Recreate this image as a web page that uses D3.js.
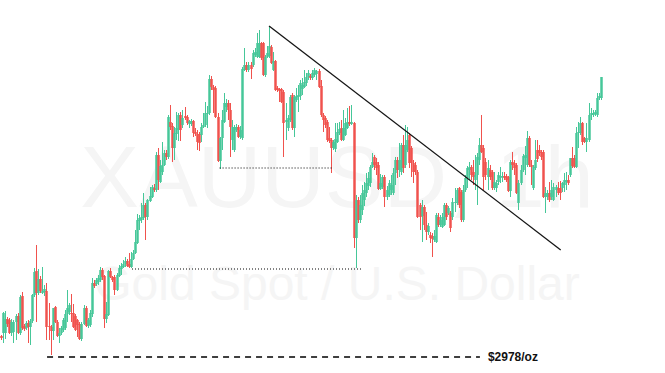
<!DOCTYPE html>
<html>
<head>
<meta charset="utf-8">
<script src="https://cdn.jsdelivr.net/npm/d3@7"></script>
<style>
  body { margin: 0; background: #fff; }
  svg { display: block; }
</style>
</head>
<body>
<svg id="chart"></svg>
<script>
// XAUUSD 1h candles, prices
const opens = [
  2999,3002,3002,3016,3015,3002,3003,3013,3019,3002, 3039,3009,3007,3012,3008,3014,3040,3064,3042,3056,
  3042,3043,3044,3009,3008,3004,3028,3013,2999,3002, 3005,3007,3021,3023,3022,3022,3019,3015,3011,2996,
  3011,3027,3009,3010,3021,3052,3051,3053,
  3055,3065,3059,3016,3020,3064,3058,3058,3045,3059, 3066,3068,3071,3074,3071,3068,3076,3082,3092,3114,
  3115,3117,3130,3118,3134,3138,3147,3145,3180,3153, 3163,3170,3182,3178,3213,3209,3187,3201,3205,3220,
  3210,3219,3218,3211,3211,3214,3203,3201,
  3201,3200,3208,3210,3221,3222,3256,3248,3247,3218, 3174,3197,3213,3228,3232,3225,3195,3185,3205,3208,
  3198,3197,3265,3270,3265,3270,3270,3280,3278,3278, 3292,3292,3260,3278,3279,3288,3265,3274,3247,3246,
  3246,3243,3213,3207,3215,3240,3207,3235,
  3238,3239,3246,3248,3252,3258,3259,3257,3260,3261, 3264,3249,3220,3217,3213,3197,3195,3187,3186,3193,
  3202,3207,3195,3200,3207,3213,3211,3212,3097,3135, 3115,3125,3135,3142,3149,3152,3168,3178,3173,3170,
  3146,3148,3158,3138,3140,3145,3142,3162,
  3175,3165,3163,3190,3170,3185,3200,3187,3172,3170, 3163,3130,3119,3128,3110,3103,3100,3099,3095,3093,
  3118,3110,3108,3110,3130,3122,3122,3118,3132,3132, 3147,3143,3115,3145,3157,3165,3168,3163,3155,3160,
  3175,3190,3187,3173,3158,3165,3163,3147,3147,3153,
  3157,3158,3159,3159,3158,3144,3173,3172,3170,3132, 3152,3165,3177,3170,3197,3170,3147,3167,3185,3185,
  3183,3183,3138,3138,3142,3138,3135,3145,3147,3147, 3147,3150,3153,3155,3160,3177,3177,3168,3202,3202,
  3212,3197,3193,3195,3220,3220,3221,3220,3237,3237
]
const highs = [
  3000,3023,3024,3018,3017,3016,3015,3021,3022,3040, 3043,3011,3014,3015,3016,3041,3067,3090,3066,3059,
  3068,3050,3052,3032,3010,3027,3029,3015,3007,3009, 3017,3025,3045,3032,3041,3031,3021,3016,3013,3013,
  3030,3029,3017,3025,3057,3055,3057,3060,
  3068,3067,3060,3033,3065,3067,3059,3060,3062,3070, 3072,3075,3078,3076,3082,3083,3085,3105,3121,3120,
  3132,3142,3132,3136,3148,3150,3151,3183,3187,3175, 3193,3185,3185,3220,3230,3212,3208,3223,3222,3223,
  3225,3228,3220,3215,3216,3215,3207,3205,
  3203,3212,3222,3233,3229,3260,3259,3250,3249,3222, 3198,3225,3242,3236,3235,3232,3215,3210,3211,3210,
  3209,3268,3287,3273,3273,3273,3285,3287,3302,3305, 3293,3293,3280,3289,3309,3290,3283,3275,3249,3247,
  3247,3245,3232,3220,3240,3242,3240,3247,
  3250,3255,3257,3265,3262,3265,3261,3265,3267,3265, 3266,3255,3222,3219,3215,3208,3197,3195,3212,3212,
  3213,3215,3225,3217,3227,3229,3230,3213,3140,3138, 3140,3150,3153,3162,3163,3170,3182,3180,3177,3173,
  3161,3160,3160,3149,3155,3160,3167,3178,
  3178,3192,3192,3200,3210,3208,3202,3189,3175,3173, 3165,3132,3135,3130,3123,3112,3103,3102,3105,3122,
  3122,3120,3122,3132,3132,3129,3124,3137,3147,3147, 3148,3145,3150,3160,3169,3173,3170,3175,3180,3182,
  3197,3220,3190,3177,3175,3170,3165,3163,3155,3163,
  3168,3163,3163,3161,3159,3175,3183,3175,3172,3155, 3170,3181,3189,3204,3199,3175,3170,3195,3195,3190,
  3185,3185,3148,3145,3153,3155,3152,3150,3153,3154, 3153,3162,3163,3160,3177,3188,3180,3208,3213,3218,
  3213,3198,3212,3232,3227,3225,3225,3242,3242,3258
]
const lows = [
  2995,2992,2996,3008,3001,2999,2992,2995,3001,3000, 3005,3004,3005,2992,2990,3012,3038,3013,3040,3042,
  3041,3039,2995,2995,2980,2995,3012,2998,2992,3000, 3003,3005,3013,3020,3013,3007,3004,2998,2995,2994,
  3010,3008,3007,3008,3018,3047,3049,3050,
  3053,3055,3007,3012,3019,3057,3053,3040,3044,3058, 3060,3067,3068,3068,3067,3067,3075,3081,3091,3105,
  3112,3115,3095,3115,3133,3137,3143,3143,3145,3152, 3160,3169,3175,3176,3205,3173,3175,3195,3194,3194,
  3207,3215,3210,3207,3209,3198,3199,3185,
  3184,3193,3207,3208,3207,3220,3245,3222,3217,3173, 3166,3185,3212,3223,3215,3178,3185,3183,3203,3197,
  3196,3195,3264,3263,3263,3256,3268,3278,3277,3277, 3275,3259,3258,3277,3277,3271,3264,3244,3243,3233,
  3232,3178,3195,3204,3213,3205,3198,3233,
  3223,3235,3240,3247,3249,3255,3255,3255,3258,3255, 3247,3218,3203,3207,3193,3192,3162,3185,3183,3192,
  3200,3194,3194,3199,3206,3209,3210,3087,3067,3112, 3112,3120,3129,3138,3145,3148,3167,3165,3160,3145,
  3145,3146,3128,3135,3138,3140,3140,3150,
  3157,3158,3160,3162,3167,3183,3167,3158,3152,3160, 3117,3105,3093,3105,3095,3100,3092,3078,3093,3092,
  3108,3108,3107,3109,3115,3120,3103,3115,3123,3130, 3127,3113,3113,3143,3147,3155,3155,3150,3145,3130,
  3170,3182,3145,3155,3145,3155,3145,3145,3143,3150,
  3152,3153,3155,3153,3143,3138,3165,3160,3141,3125, 3150,3163,3160,3168,3168,3150,3145,3165,3173,3179,
  3175,3137,3122,3135,3133,3135,3134,3138,3140,3135, 3143,3143,3145,3150,3158,3167,3167,3167,3187,3200,
  3190,3192,3183,3193,3215,3218,3219,3218,3235,3235
]
const closes = [
  2997,3022,3016,3011,3002,3013,3013,3019,3002,3038, 3007,3006,3012,3008,3014,3040,3063,3042,3056,3044,
  3044,3046,3008,3008,3004,3027,3013,2999,3002,3007, 3015,3021,3027,3030,3021,3008,3005,3010,2996,3011,
  3027,3009,3015,3022,3052,3049,3055,3057,
  3065,3058,3016,3021,3064,3058,3055,3045,3060,3067, 3069,3071,3074,3069,3068,3076,3082,3093,3115,3117,
  3118,3130,3118,3135,3139,3148,3145,3180,3155,3169, 3170,3182,3178,3218,3208,3187,3202,3207,3220,3205,
  3217,3217,3212,3214,3214,3202,3201,3193,
  3192,3208,3210,3222,3222,3256,3248,3245,3218,3174, 3197,3215,3232,3232,3225,3208,3208,3208,3208,3198,
  3205,3266,3270,3265,3270,3266,3282,3283,3292,3292, 3277,3260,3278,3282,3289,3272,3274,3245,3245,3244,
  3233,3212,3215,3217,3238,3207,3238,3239,
  3240,3252,3250,3253,3258,3262,3257,3262,3265,3264, 3248,3220,3215,3210,3195,3194,3187,3193,3196,3203,
  3206,3195,3207,3212,3213,3211,3213,3097,3135,3115, 3130,3142,3145,3152,3157,3168,3173,3170,3167,3146,
  3152,3158,3138,3145,3152,3150,3162,3175,
  3165,3175,3190,3167,3190,3195,3172,3172,3163,3163, 3118,3118,3128,3110,3103,3109,3097,3096,3099,3120,
  3110,3115,3118,3130,3118,3127,3107,3133,3133,3145, 3130,3115,3145,3157,3167,3168,3160,3158,3160,3178,
  3190,3183,3158,3160,3167,3158,3147,3153,3152,3160,
  3159,3159,3157,3155,3144,3173,3170,3167,3142,3152, 3165,3179,3180,3197,3170,3168,3168,3175,3176,3182,
  3178,3138,3142,3142,3135,3145,3148,3148,3142,3142, 3152,3155,3155,3152,3177,3169,3168,3202,3203,3212,
  3193,3193,3197,3220,3222,3222,3223,3237,3239,3258
]

// drawn annotations: candle index + price
const trendLine = [{ i: 130, p: 3309 }, { i: 271.5, p: 3085 }]
const dottedLevels = [
  { from: 106, to: 160.5, p: 3167 },
  { from: 63.5, to: 175, p: 3066 }
]
const refLevel = { from: 22.3, to: 232.3, p: 2978 }
const refLabel = "$2978/oz"
const watermark = ["XAUUSD, 1h", "Gold Spot / U.S. Dollar"]

const width = 665, height = 373
const upColor = "#46c799", downColor = "#f0524d"

const data = opens.map((o, i) => ({ i: i, o: o, h: highs[i], l: lows[i], c: closes[i] }))

const svg = d3.select("#chart")
  .attr("width", width)
  .attr("height", height)
  .style("background", "#fff")

const x = d3.scaleBand()
  .domain(d3.range(data.length))
  .range([0, 602])
  .padding(0.06)

// center of a (possibly fractional) candle index
const xc = i => x(0) + i * x.step() + x.bandwidth() / 2
const bodyW = x.step() * 1.2

const y = d3.scaleLinear()
  .domain([2978, 3308])
  .range([357, 27])

// watermark
svg.append("text")
  .attr("x", 337)
  .attr("y", 207)
  .attr("text-anchor", "middle")
  .style("font-family", "'Liberation Sans', Arial, sans-serif")
  .style("font-size", "88px")
  .style("fill", "#f5f5f5")
  .text(watermark[0])

svg.append("text")
  .attr("x", 337)
  .attr("y", 300)
  .attr("text-anchor", "middle")
  .style("font-family", "'Liberation Sans', Arial, sans-serif")
  .style("font-size", "48px")
  .style("fill", "#f5f5f5")
  .text(watermark[1])

const candles = svg.append("g")
  .selectAll("g")
  .data(data)
  .join("g")
  .attr("fill", d => d.c >= d.o ? upColor : downColor)
  .attr("stroke", d => d.c >= d.o ? upColor : downColor)

candles.append("line")
  .attr("x1", d => Math.round(xc(d.i)) + 0.5)
  .attr("x2", d => Math.round(xc(d.i)) + 0.5)
  .attr("y1", d => y(d.h))
  .attr("y2", d => y(d.l))
  .attr("stroke-width", 1)

candles.append("rect")
  .attr("stroke", "none")
  .attr("x", d => Math.round(xc(d.i)) + 0.5 - bodyW / 2)
  .attr("width", bodyW)
  .attr("y", d => y(Math.max(d.o, d.c)))
  .attr("height", d => Math.max(1, Math.abs(y(d.o) - y(d.c))))

// horizontal dotted levels
svg.append("g")
  .selectAll("line")
  .data(dottedLevels)
  .join("line")
  .attr("x1", d => xc(d.from))
  .attr("x2", d => xc(d.to))
  .attr("y1", d => y(d.p))
  .attr("y2", d => y(d.p))
  .attr("stroke", "#000")
  .attr("stroke-width", 1.2)
  .attr("stroke-dasharray", "1,2")

// trend line
svg.append("line")
  .attr("x1", xc(trendLine[0].i))
  .attr("y1", y(trendLine[0].p))
  .attr("x2", xc(trendLine[1].i))
  .attr("y2", y(trendLine[1].p))
  .attr("stroke", "#151515")
  .attr("stroke-width", 1.3)

// reference price line + label
svg.append("line")
  .attr("x1", xc(refLevel.from))
  .attr("x2", xc(refLevel.to))
  .attr("y1", y(refLevel.p))
  .attr("y2", y(refLevel.p))
  .attr("stroke", "#000")
  .attr("stroke-width", 1.4)
  .attr("stroke-dasharray", "6,5")

svg.append("text")
  .attr("x", xc(refLevel.to) + 8)
  .attr("y", y(refLevel.p) + 4)
  .style("font-family", "'Liberation Sans', Arial, sans-serif")
  .style("font-size", "12px")
  .style("font-weight", "bold")
  .style("fill", "#111")
  .text(refLabel)
</script>
</body>
</html>
